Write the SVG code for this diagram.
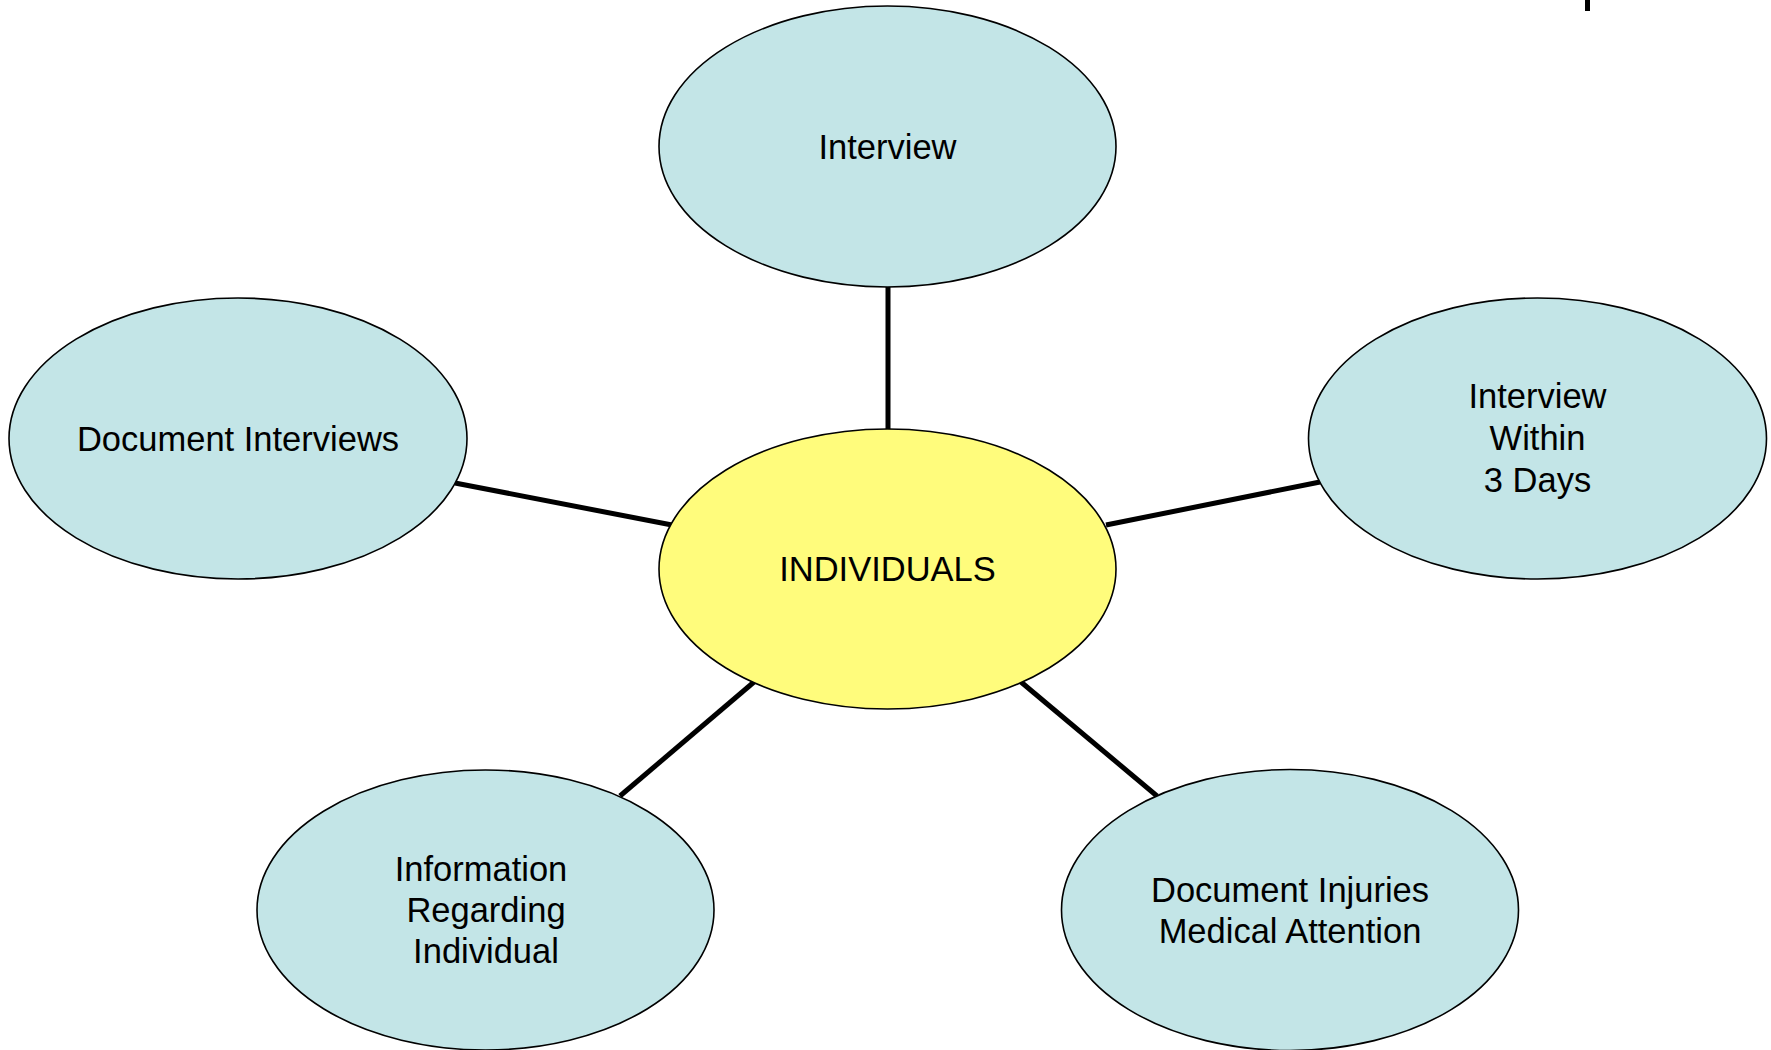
<svg xmlns="http://www.w3.org/2000/svg" width="1771" height="1050" viewBox="0 0 1771 1050">
<style>
.n{fill:#C3E5E7;stroke:#000;stroke-width:1.6}
.c{fill:#FFFC7C;stroke:#000;stroke-width:1.6}
.t{font-family:"Liberation Sans",Arial,sans-serif;font-size:34.5px;fill:#000;text-anchor:middle}
.e{stroke:#000;stroke-width:5;fill:none}
</style>
<rect width="1771" height="1050" fill="#fff"/>
<rect x="1585" y="0" width="5" height="11" fill="#000"/>
<g id="connectors">
<line class="e" x1="888" y1="287" x2="888" y2="430"/>
<line class="e" x1="455" y1="483" x2="672" y2="525"/>
<line class="e" x1="1106" y1="525" x2="1320" y2="482"/>
<line class="e" x1="754" y1="682" x2="620" y2="796"/>
<line class="e" x1="1021" y1="682" x2="1157" y2="796"/>
</g>
<g id="individuals">
<ellipse class="c" cx="887.5" cy="569" rx="228.5" ry="140"/>
<text class="t" x="887.5" y="581">INDIVIDUALS</text>
</g>
<g id="interview">
<ellipse class="n" cx="887.5" cy="146.5" rx="228.5" ry="140.5"/>
<text class="t" x="887.5" y="159">Interview</text>
</g>
<g id="document-interviews">
<ellipse class="n" cx="238" cy="438.5" rx="229" ry="140.5"/>
<text class="t" x="238" y="451">Document Interviews</text>
</g>
<g id="interview-within">
<ellipse class="n" cx="1537.5" cy="438.5" rx="229" ry="140.5"/>
<text class="t" x="1537.5" y="408">Interview</text>
<text class="t" x="1537.5" y="450">Within</text>
<text class="t" x="1537.5" y="492">3 Days</text>
</g>
<g id="information">
<ellipse class="n" cx="485.5" cy="910" rx="228.5" ry="140"/>
<text class="t" x="481" y="881">Information</text>
<text class="t" x="486" y="922">Regarding</text>
<text class="t" x="486" y="963">Individual</text>
</g>
<g id="document-injuries">
<ellipse class="n" cx="1290" cy="910" rx="228.5" ry="140.5"/>
<text class="t" x="1290" y="902">Document Injuries</text>
<text class="t" x="1290" y="943">Medical Attention</text>
</g>
</svg>
